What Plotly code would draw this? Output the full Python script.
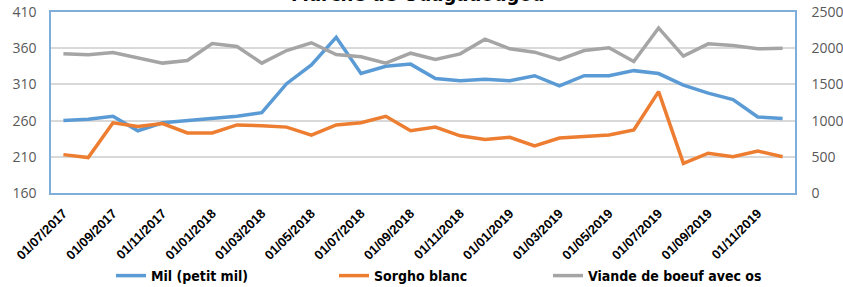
import plotly.graph_objects as go

months = [
    "01/07/2017", "01/08/2017", "01/09/2017", "01/10/2017", "01/11/2017", "01/12/2017",
    "01/01/2018", "01/02/2018", "01/03/2018", "01/04/2018", "01/05/2018", "01/06/2018",
    "01/07/2018", "01/08/2018", "01/09/2018", "01/10/2018", "01/11/2018", "01/12/2018",
    "01/01/2019", "01/02/2019", "01/03/2019", "01/04/2019", "01/05/2019", "01/06/2019",
    "01/07/2019", "01/08/2019", "01/09/2019", "01/10/2019", "01/11/2019", "01/12/2019",
]
tick_labels = months[::2]

mil = [260, 262, 266, 246, 257, 260, 263, 266, 271, 311,
       337, 375, 325, 335, 338, 318, 315, 317, 315, 322,
       308, 322, 322, 329, 325, 309, 298, 289, 265, 263]
sorgho = [213, 209, 257, 252, 256, 243, 243, 254, 253, 251,
          240, 254, 257, 266, 246, 251, 239, 234, 237, 225,
          236, 238, 240, 247, 300, 201, 215, 210, 218, 210]
viande = [1922, 1908, 1940, 1872, 1794, 1830, 2064, 2023, 1794, 1968,
          2075, 1913, 1881, 1794, 1931, 1844, 1922, 2124, 1991, 1945,
          1842, 1968, 2005, 1817, 2280, 1890, 2060, 2037, 1991, 2000]

series_names = ["Mil (petit mil)", "Sorgho blanc", "Viande de boeuf avec os"]
colors = ["#5B9BD5", "#ED7D31", "#A5A5A5"]
title_text = "Marché de Ouagadougou"

fig = go.Figure()
fig.add_trace(go.Scatter(x=months, y=mil, name=series_names[0], mode="lines",
                         line=dict(color=colors[0], width=3.5), legend="legend"))
fig.add_trace(go.Scatter(x=months, y=sorgho, name=series_names[1], mode="lines",
                         line=dict(color=colors[1], width=3.5), legend="legend2"))
fig.add_trace(go.Scatter(x=months, y=viande, name=series_names[2], mode="lines",
                         line=dict(color=colors[2], width=3.5), yaxis="y2",
                         legend="legend3"))

condensed = "DejaVu Sans Condensed, Liberation Sans Narrow, sans-serif"
tick_font = dict(family="Open Sans, sans-serif", size=14, color="#595959")
frame = "#7FAEDD"


def legend_at(px):
    return dict(orientation="h", xref="container", yref="container",
                x=px / 843, xanchor="left", y=1 - 276 / 287, yanchor="middle",
                font=dict(family=condensed, size=14, color="#000000", weight="bold"),
                bgcolor="rgba(0,0,0,0)", borderwidth=0)


fig.update_layout(
    width=843, height=287,
    margin=dict(l=51, r=48, t=12, b=94),
    plot_bgcolor="white", paper_bgcolor="white",
    showlegend=True,
    legend=legend_at(111),
    legend2=legend_at(334),
    legend3=legend_at(548),
    xaxis=dict(type="category", categoryorder="array", categoryarray=months,
               tickmode="array", tickvals=tick_labels, ticktext=tick_labels,
               tickangle=-45, showgrid=False, ticks="", automargin=False,
               tickfont=dict(family="Liberation Sans, Arial, sans-serif", size=13,
                             color="#000000", weight="bold"),
               ticklabelstandoff=6,
               showline=True, linecolor=frame, linewidth=1.5, mirror=True,
               range=[-0.5, len(months) - 0.5]),
    yaxis=dict(range=[160, 410], tickvals=[160, 210, 260, 310, 360, 410],
               showgrid=True, gridcolor="#D9D9D9", gridwidth=1.5, zeroline=False,
               showline=True, linecolor=frame, linewidth=1.5, automargin=False,
               tickfont=tick_font, ticklabelstandoff=10),
    yaxis2=dict(range=[0, 2500], tickvals=[0, 500, 1000, 1500, 2000, 2500],
                overlaying="y", side="right", showgrid=False, zeroline=False,
                showline=True, linecolor=frame, linewidth=1.5, automargin=False,
                tickfont=tick_font, ticklabelstandoff=12),
    annotations=[dict(text="<b>" + title_text + "</b>", xref="paper", yref="paper",
                      x=(547 - 51) / 744, y=1.02, xanchor="right", yanchor="bottom",
                      showarrow=False,
                      font=dict(family=condensed, size=20, color="#000000"))],
)

fig.write_html("out.html", config={"displayModeBar": False},
               post_script="document.body.style.margin='0';")
